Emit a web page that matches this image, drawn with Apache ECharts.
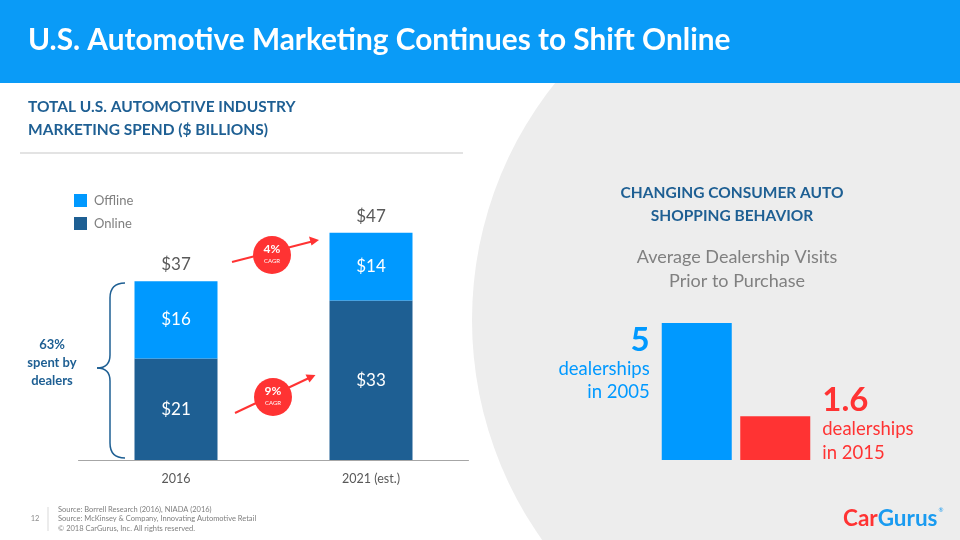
<!DOCTYPE html>
<html>
<head>
<meta charset="utf-8">
<script src="https://cdn.jsdelivr.net/npm/echarts@6/dist/echarts.min.js"></script>
<style>html,body{margin:0;padding:0;background:#fff}#c{width:960px;height:540px}</style>
</head>
<body>
<div id="c"></div>
<script>
// ---- data ----
const spendYears = ['2016', '2021 (est.)'];
const onlineSpend = [21, 33];
const offlineSpend = [16, 14];
const cagrLabels = ['4%', '9%'];
const visitYears = ['2005', '2015'];
const dealershipVisits = [5, 1.6];

const FONT = 'Lato, "Open Sans", sans-serif';
const DARK = '#1E5F93';
const LIGHT = '#0099FF';
const RED = '#FF3333';
const TXT = '#595959';

const chart = echarts.init(document.getElementById('c'), null, {renderer: 'canvas'});

const totals = onlineSpend.map((v, i) => v + offlineSpend[i]);

function bez(x1, y1, cx, cy, x2, y2) {
  return {type: 'bezierCurve', z: 10, shape: {x1: x1, y1: y1, x2: x2, y2: y2, cpx1: cx, cpy1: cy},
          style: {stroke: DARK, lineWidth: 1.5, fill: null}};
}
function seg(x1, y1, x2, y2) {
  return {type: 'line', z: 10, shape: {x1: x1, y1: y1, x2: x2, y2: y2}, style: {stroke: DARK, lineWidth: 1.5}};
}

const option = {
  animation: false,
  textStyle: {fontFamily: FONT},
  legend: {
    left: 69, top: 189, orient: 'vertical', itemWidth: 13, itemHeight: 13, itemGap: 10,
    icon: 'rect', selectedMode: false,
    data: ['Offline', 'Online'],
    textStyle: {color: '#7F7F7F', fontSize: 13, fontFamily: FONT, padding: [0, 0, 0, 2]}
  },
  grid: [
    {left: 78.5, width: 390, top: 170, height: 290},
    {left: 657.5, width: 157, top: 323, height: 137}
  ],
  xAxis: [
    {type: 'category', gridIndex: 0, data: spendYears,
     axisLine: {lineStyle: {color: '#A6A6A6', width: 1}}, axisTick: {show: false},
     axisLabel: {color: TXT, fontSize: 12.5, margin: 12, fontFamily: FONT}},
    {type: 'category', gridIndex: 1, data: visitYears, show: false}
  ],
  yAxis: [
    {type: 'value', gridIndex: 0, min: 0, max: 60, show: false, splitLine: {show: false}},
    {type: 'value', gridIndex: 1, min: 0, max: 5, show: false, splitLine: {show: false}}
  ],
  series: [
    {name: 'Online', type: 'bar', stack: 's', barWidth: 83, xAxisIndex: 0, yAxisIndex: 0,
     data: onlineSpend, itemStyle: {color: DARK},
     label: {show: true, position: 'inside', color: '#fff', fontSize: 17, fontFamily: FONT,
             formatter: p => '$' + p.value}},
    {name: 'Offline', type: 'bar', stack: 's', barWidth: 83, xAxisIndex: 0, yAxisIndex: 0,
     data: offlineSpend, itemStyle: {color: LIGHT},
     label: {show: true, position: 'inside', color: '#fff', fontSize: 17, fontFamily: FONT,
             formatter: p => '$' + p.value}},
    {name: 'Total', type: 'bar', stack: 's', barWidth: 83, xAxisIndex: 0, yAxisIndex: 0,
     data: totals.map(() => 0), itemStyle: {color: 'transparent'},
     label: {show: true, position: 'top', distance: 8, color: TXT, fontSize: 17, fontFamily: FONT,
             formatter: p => '$' + totals[p.dataIndex]}},
    {name: 'Visits', type: 'bar', barWidth: 70, barGap: '12%', xAxisIndex: 1, yAxisIndex: 1,
     data: [
       {value: dealershipVisits[0], itemStyle: {color: LIGHT},
        label: {show: true, position: [-12, 0], align: 'right', verticalAlign: 'top',
                formatter: '{big|' + dealershipVisits[0] + '}\n{small|dealerships}\n{small|in ' + visitYears[0] + '}',
                rich: {
                  big: {fontSize: 33, fontWeight: 'bold', color: LIGHT, lineHeight: 34, align: 'right', fontFamily: FONT},
                  small: {fontSize: 18.5, color: LIGHT, lineHeight: 23.5, align: 'right', fontFamily: FONT}
                }}},
       {value: dealershipVisits[1], itemStyle: {color: RED},
        label: {show: true, position: [82, -33], align: 'left', verticalAlign: 'top',
                formatter: '{big|' + dealershipVisits[1] + '}\n{small|dealerships}\n{small|in ' + visitYears[1] + '}',
                rich: {
                  big: {fontSize: 33, fontWeight: 'bold', color: RED, lineHeight: 34, fontFamily: FONT},
                  small: {fontSize: 18.5, color: RED, lineHeight: 24, fontFamily: FONT}
                }}}
     ]}
  ],
  graphic: [
    // background arc
    {type: 'circle', shape: {cx: 852, cy: 320, r: 380}, style: {fill: '#EDEDED'}, z: -10, silent: true},
    // title bar
    {type: 'rect', shape: {x: 0, y: 0, width: 960, height: 83}, style: {fill: '#0A9BF7'}, z: -5},
    {type: 'text', x: 28, y: 40, z: 10,
     style: {text: 'U.S. Automotive Marketing Continues to Shift Online', fill: '#fff',
             font: 'bold 29.8px ' + FONT, verticalAlign: 'middle'}},
    // left subtitle
    {type: 'text', x: 28, y: 118, z: 10,
     style: {text: 'TOTAL U.S. AUTOMOTIVE INDUSTRY\nMARKETING SPEND ($ BILLIONS)', fill: DARK,
             font: 'bold 15.5px ' + FONT, lineHeight: 23, verticalAlign: 'middle'}},
    {type: 'line', shape: {x1: 20, y1: 153, x2: 463, y2: 153}, style: {stroke: '#E3E3E3', lineWidth: 2}, z: 1},
    // brace
    bez(125, 283, 110, 283, 110, 298),
    seg(110, 298, 110, 355),
    bez(110, 355, 110, 368, 97, 368),
    bez(97, 368, 110, 368, 110, 381),
    seg(110, 381, 110, 443),
    bez(110, 443, 110, 458, 125, 458),
    {type: 'text', x: 52, y: 363, z: 10,
     style: {text: '63%\nspent by\ndealers', fill: DARK, font: 'bold 13px ' + FONT,
             align: 'center', verticalAlign: 'middle', lineHeight: 18}},
    // CAGR arrows
    {type: 'line', z: 20, shape: {x1: 232, y1: 262, x2: 312, y2: 241.5}, style: {stroke: RED, lineWidth: 2}},
    {type: 'polygon', z: 20, shape: {points: [[319, 240], [309, 236.5], [311.5, 245.5]]}, style: {fill: RED}},
    {type: 'line', z: 20, shape: {x1: 235, y1: 413, x2: 309, y2: 378}, style: {stroke: RED, lineWidth: 2}},
    {type: 'polygon', z: 20, shape: {points: [[315.5, 375], [305.5, 374.5], [309.5, 382.5]]}, style: {fill: RED}},
    {type: 'circle', z: 21, shape: {cx: 272, cy: 255, r: 19}, style: {fill: RED}},
    {type: 'text', z: 22, x: 272, y: 249.5, style: {text: cagrLabels[0], fill: '#fff', font: 'bold 12px ' + FONT, align: 'center', verticalAlign: 'middle'}},
    {type: 'text', z: 22, x: 272, y: 261, style: {text: 'CAGR', fill: '#fff', font: '6px ' + FONT, align: 'center', verticalAlign: 'middle'}},
    {type: 'circle', z: 21, shape: {cx: 273, cy: 397, r: 19}, style: {fill: RED}},
    {type: 'text', z: 22, x: 273, y: 391.5, style: {text: cagrLabels[1], fill: '#fff', font: 'bold 12px ' + FONT, align: 'center', verticalAlign: 'middle'}},
    {type: 'text', z: 22, x: 273, y: 403, style: {text: 'CAGR', fill: '#fff', font: '6px ' + FONT, align: 'center', verticalAlign: 'middle'}},
    // right headings
    {type: 'text', z: 10, x: 732, y: 204,
     style: {text: 'CHANGING CONSUMER AUTO\nSHOPPING BEHAVIOR', fill: DARK, font: 'bold 15.5px ' + FONT,
             align: 'center', verticalAlign: 'middle', lineHeight: 23}},
    {type: 'text', z: 10, x: 737, y: 269,
     style: {text: 'Average Dealership Visits\nPrior to Purchase', fill: '#808080', font: '18px ' + FONT,
             align: 'center', verticalAlign: 'middle', lineHeight: 24}},
    // footer
    {type: 'text', z: 10, x: 35, y: 519, style: {text: '12', fill: '#8C8C8C', font: '7.5px ' + FONT, align: 'center', verticalAlign: 'middle'}},
    {type: 'line', z: 10, shape: {x1: 48, y1: 507, x2: 48, y2: 531}, style: {stroke: '#D9D9D9', lineWidth: 1}},
    {type: 'text', z: 10, x: 58, y: 519,
     style: {text: 'Source: Borrell Research (2016), NIADA (2016)\nSource: McKinsey & Company, Innovating Automotive Retail\n\u00A9 2018 CarGurus, Inc. All rights reserved.',
             fill: '#7F7F7F', font: '7.5px ' + FONT, lineHeight: 9.7, verticalAlign: 'middle'}},
    // logo
    {type: 'text', z: 10, x: 843, y: 519,
     style: {text: '{r|Car}{b|Gurus}{s|\u00AE}', verticalAlign: 'middle',
             rich: {
               r: {fill: RED, font: 'bold 22.5px ' + FONT},
               b: {fill: '#1A9BF0', font: 'bold 22.5px ' + FONT},
               s: {fill: '#1A9BF0', font: '6px ' + FONT, verticalAlign: 'top', padding: [0,0,10,1]}
             }}}
  ]
};
chart.setOption(option);
</script>
</body>
</html>
